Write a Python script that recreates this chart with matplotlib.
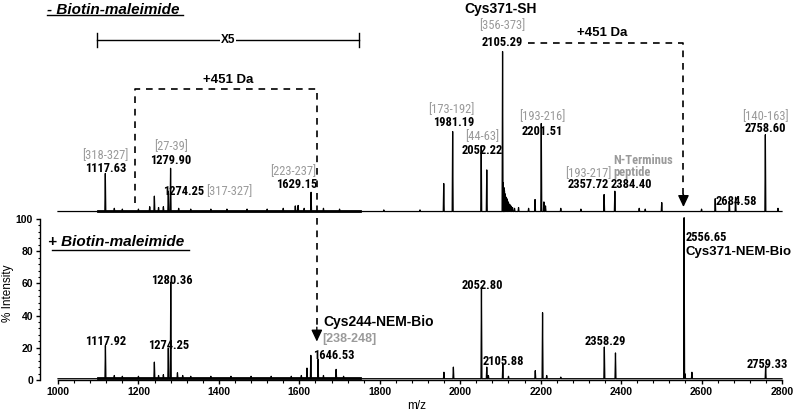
import os
import matplotlib
matplotlib.use("Agg")
import matplotlib.pyplot as plt
from matplotlib import font_manager as fm
from matplotlib.lines import Line2D
from matplotlib.ticker import AutoMinorLocator

# ---------------- data ----------------
# Upper spectrum: - Biotin-maleimide  (relative intensity, base peak = 100)
top_mz = [1117.63, 1239.6, 1274.25, 1279.90, 1597.0, 1629.15,
          1959.0, 1981.19, 2052.22, 2066.0, 2105.29, 2186.0, 2201.51,
          2357.72, 2384.40, 2445.0, 2501.0, 2634.0, 2669.0, 2684.58, 2758.60]
top_int = [23.8, 9.6, 12.7, 27.0, 3.8, 12.0,
           17.5, 50.0, 41.0, 26.0, 100.0, 7.5, 55.0,
           10.6, 12.7, 2.0, 5.6, 8.0, 6.4, 9.0, 48.0]
# small peaks / noise / tail of the 2105 peak in the upper spectrum
top_minor_mz = [1140, 1160, 1200, 1228, 1250, 1262, 1300, 1330, 1380, 1420, 1470,
                1520, 1560, 1590, 1612, 1660, 1700, 1810, 1900,
                2107, 2108.5, 2110, 2112, 2114, 2116, 2118, 2120, 2123, 2126, 2130, 2135,
                2145, 2170, 2208, 2212, 2250, 2300, 2460, 2600, 2790]
top_minor_int = [2.0, 1.5, 1.5, 3.0, 2.5, 3.0, 2.0, 1.5, 1.5, 1.5, 1.5,
                 1.5, 2.0, 3.5, 2.0, 2.0, 1.5, 1.0, 1.0,
                 18.0, 15.0, 13.0, 11.0, 9.0, 8.0, 6.5, 5.5, 4.5, 3.5, 2.5, 2.0,
                 2.5, 2.0, 6.0, 3.5, 2.0, 1.5, 1.5, 1.5, 2.0]

# Lower spectrum: + Biotin-maleimide (% intensity)
bot_mz = [1117.92, 1239.6, 1274.25, 1280.36, 1297.0, 1619.0, 1628.6, 1646.53, 1691.5,
          1959.5, 1983.0, 2052.80, 2066.0, 2105.88, 2186.6, 2204.7, 2358.29, 2386.0,
          2556.65, 2576.0, 2759.33]
bot_int = [20.7, 10.3, 19.0, 60.0, 3.7, 6.6, 14.5, 12.0, 5.8,
           4.0, 7.2, 56.0, 7.2, 8.9, 5.0, 41.0, 19.7, 16.0,
           100.0, 4.0, 7.9]
bot_minor_mz = [1140, 1160, 1200, 1250, 1262, 1310, 1330, 1380, 1430, 1480, 1530,
                1580, 1605, 1660, 1710, 2070, 2120, 2215, 2250, 2559]
bot_minor_int = [2.0, 1.5, 1.5, 2.0, 2.5, 2.0, 1.5, 1.5, 1.5, 1.5, 1.5,
                 1.5, 2.0, 2.0, 1.5, 2.0, 1.5, 2.0, 1.0, 3.0]

zoom_region = (1100, 1750)     # region shown x5
zoom_label = "X5"
mz_range = (1000, 2800)
x_ticks = [1000, 1200, 1400, 1600, 1800, 2000, 2200, 2400, 2600, 2800]
y_ticks = [0, 20, 40, 60, 80, 100]

# ---------------- fonts ----------------
SANS = ['Liberation Sans', 'DejaVu Sans']
GRAY = '#9a9a9a'
plt.rcParams['font.family'] = SANS


def find_condensed(weight):
    for fam in ['Liberation Sans Narrow', 'Arial Narrow', 'Roboto Condensed',
                'Noto Sans', 'Open Sans', 'DejaVu Sans', 'Roboto', 'Lato', 'Inter']:
        try:
            p = fm.findfont(fm.FontProperties(family=fam, stretch='condensed',
                                              weight=weight),
                            fallback_to_default=False)
        except Exception:
            continue
        b = os.path.basename(p).lower()
        if ('condensed' in b or 'narrow' in b) and 'extra' not in b and 'semi' not in b:
            if weight == 'bold' and 'bold' not in b:
                continue
            if weight == 'normal' and ('bold' in b or 'light' in b or 'thin' in b
                                       or 'medium' in b or 'black' in b):
                continue
            return p
    return None


cond_reg = find_condensed('normal')
cond_bold = find_condensed('bold')
if cond_reg:
    NUM_FP = dict(fontproperties=fm.FontProperties(fname=cond_reg, size=9))
else:
    NUM_FP = dict(family=SANS, fontsize=8)
if cond_bold:
    NUMB_FP = dict(fontproperties=fm.FontProperties(fname=cond_bold, size=9))
else:
    NUMB_FP = dict(family=SANS, fontsize=8, fontweight='bold')

# ---------------- figure ----------------
W, H = 797, 413
fig = plt.figure(figsize=(W / 100, H / 100), dpi=100)


def fx(px):
    return px / W


def fy(py):
    return 1 - py / H


# bottom axes: x 58..782 px, y 219..380 px
ax2 = fig.add_axes([fx(58), fy(380), fx(782) - fx(58), fy(219) - fy(380)])
# top axes: baseline at 212 px, 100% at 52 px
ax1 = fig.add_axes([fx(58), fy(212), fx(782) - fx(58), fy(0) - fy(212)])
ax1.set_xlim(*mz_range)
ax1.set_ylim(0, 212 / 1.6)
ax1.axis('off')
ax2.set_xlim(*mz_range)
ax2.set_ylim(0, 100)


def trace(mz, inten, base):
    pts = sorted(zip(mz, inten))
    xs, ys = [mz_range[0]], [base]
    for m, h in pts:
        xs += [m - 1.2, m, m + 1.2]
        ys += [base, base + h, base]
    xs.append(mz_range[1])
    ys.append(base)
    return xs, ys


# upper spectrum
xs, ys = trace(top_mz + top_minor_mz, top_int + top_minor_int, 0.3)
ax1.plot(xs, ys, color='black', lw=0.9, clip_on=False)
ax1.plot(zoom_region, [0.9, 0.9], color='black', lw=2.0, clip_on=False)

# lower spectrum
xs, ys = trace(bot_mz + bot_minor_mz, bot_int + bot_minor_int, 0.8)
ax2.plot(xs, ys, color='black', lw=0.9, clip_on=False)
ax2.plot(zoom_region, [1.4, 1.4], color='black', lw=2.0, clip_on=False)

# axes styling
for s in ['top', 'right']:
    ax2.spines[s].set_visible(False)
ax2.spines['left'].set_position(('outward', 13))
ax2.spines['left'].set_linewidth(1.0)
ax2.spines['bottom'].set_linewidth(1.0)
ax2.set_xticks(x_ticks)
ax2.set_yticks(y_ticks)
ax2.xaxis.set_minor_locator(AutoMinorLocator(5))
ax2.yaxis.set_minor_locator(AutoMinorLocator(5))
ax2.tick_params(which='major', length=3, width=1.0, direction='out', pad=2,
                labelsize=7.5)
ax2.tick_params(which='minor', length=1.8, width=0.8, direction='out')
for lab in ax2.get_xticklabels() + ax2.get_yticklabels():
    lab.set_fontweight('bold')

fig.text(fx(8), fy(293), '% Intensity', rotation=90, ha='center', va='center',
         fontsize=8.5)
fig.text(fx(417), fy(406), 'm/z', ha='center', va='center', fontsize=8.5)

# panel titles with underline
fig.text(fx(47), fy(13.5), '- Biotin-maleimide', ha='left', va='baseline',
         fontsize=11, fontweight='bold', fontstyle='italic')
fig.add_artist(Line2D([fx(47), fx(183)], [fy(14.8), fy(14.8)], color='black', lw=1.0))
fig.text(fx(48), fy(246.5), '+ Biotin-maleimide', ha='left', va='baseline',
         fontsize=11, fontweight='bold', fontstyle='italic')
fig.add_artist(Line2D([fx(51.5), fx(189)], [fy(250), fy(250)], color='black', lw=1.0))

num_kw = dict(color='black', ha='center', va='center', **NUMB_FP)
gray_kw = dict(color=GRAY, ha='center', va='center', **NUM_FP)
bold_kw = dict(family=SANS, fontsize=9.5, fontweight='bold', color='black',
               ha='center', va='center')

# ---- upper annotations ----
top_nums = [("2105.29", 2104.5, 105.8), ("1981.19", 1982.6, 55.8),
            ("2052.22", 2054, 38.75), ("2201.51", 2203, 50.2),
            ("2357.72", 2317.7, 16.9), ("2384.40", 2424.6, 16.9),
            ("2684.58", 2685.8, 6.4), ("2758.60", 2758.7, 52.3),
            ("1117.63", 1119.4, 27.3), ("1279.90", 1281, 32.0),
            ("1274.25", 1313.4, 12.7), ("1629.15", 1593.8, 16.9)]
for t, x, y in top_nums:
    ax1.text(x, y, t, **num_kw)
top_grays = [("[356-373]", 2104, 116.3), ("[173-192]", 1979, 63.75),
             ("[44-63]", 2054, 47.0), ("[193-216]", 2203, 59.6),
             ("[193-217]", 2317.7, 24.2), ("[140-163]", 2760, 59.6),
             ("[318-327]", 1117, 35.6), ("[27-39]", 1280.3, 40.8),
             ("[317-327]", 1424.6, 12.7), ("[223-237]", 1583.8, 25.2)]
for t, x, y in top_grays:
    ax1.text(x, y, t, **gray_kw)
ax1.text(2381, 32.5, "N-Terminus", color=GRAY, ha='left', va='center', **NUMB_FP)
ax1.text(2381, 24.4, "peptide", color=GRAY, ha='left', va='center', **NUMB_FP)
ax1.text(2100, 126.9, "Cys371-SH", **dict(bold_kw, fontsize=10))
ax1.text(2352.5, 111.9, "+451 Da", **bold_kw)
ax1.text(1423, 82.5, "+451 Da", **bold_kw)

# X5 bar
ax1.plot([1097.8, 1748.8], [107.5, 107.5], color='black', lw=1.0, clip_on=False)
for xx in [1097.8, 1748.8]:
    ax1.plot([xx, xx], [103.1, 111.9], color='black', lw=1.0, clip_on=False)
ax1.text(1423, 107.5, zoom_label, family=SANS, fontsize=8.5, fontweight='bold',
         ha='center', va='center',
         bbox=dict(facecolor='white', edgecolor='none', pad=0.5))

# dashed connectors
dash = dict(color='black', lw=1.2, linestyle=(0, (4, 3.5)), clip_on=False)
ax1.plot([1191.5, 1191.5, 1643.5, 1643.5], [5.6, 76.7, 76.7, -74.0], **dash)
ax1.plot([2169, 2555, 2555], [105.4, 105.4, 10.0], **dash)
arrow = dict(arrowstyle='-|>,head_length=0.7,head_width=0.33', color='black',
             lw=1.0, shrinkA=0, shrinkB=0)
ax1.annotate('', xy=(1643.5, -81.0), xytext=(1643.5, -72.0),
             arrowprops=arrow, annotation_clip=False)
ax1.annotate('', xy=(2555, 3.1), xytext=(2555, 11.0),
             arrowprops=arrow, annotation_clip=False)

# ---- lower annotations ----
bot_nums = [("1280.36", 1282.8, 62.1), ("1117.92", 1119.4, 23.8),
            ("1274.25", 1274.4, 21.7), ("1646.53", 1684.8, 15.5),
            ("2052.80", 2054, 59.0), ("2105.88", 2107.7, 11.4),
            ("2358.29", 2360.7, 23.8), ("2759.33", 2763, 9.9)]
for t, x, y in bot_nums:
    ax2.text(x, y, t, clip_on=False, **num_kw)
ax2.text(2559.7, 88.6, "2556.65", **dict(num_kw, ha='left'))
ax2.text(2559.7, 79.7, "Cys371-NEM-Bio", **dict(bold_kw, ha='left'))
ax2.text(1660, 36.2, "Cys244-NEM-Bio", **dict(bold_kw, ha='left', fontsize=10))
ax2.text(1656, 25.3, "[238-248]", family=SANS, fontsize=9, fontweight='bold',
         color=GRAY, ha='left', va='center')

fig.savefig('out.png', dpi=100)
